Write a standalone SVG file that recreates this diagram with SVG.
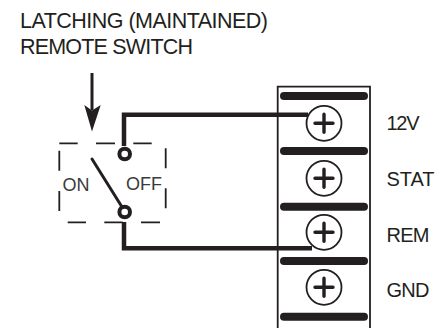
<svg xmlns="http://www.w3.org/2000/svg" width="435" height="328" viewBox="0 0 435 328">
<style>
text{font-family:"Liberation Sans",Arial,sans-serif;font-size:20px;fill:#231f20}
.title{font-size:21.5px}
.sw{font-size:18px;fill:#3a3a3a}
.dash{fill:none;stroke:#231f20;stroke-width:1.8}
.wire{fill:none;stroke:#231f20;stroke-width:4.5}
.bar{fill:#231f20}
.screw{fill:#fff;stroke:#231f20;stroke-width:1.8}
.plus{fill:none;stroke:#231f20;stroke-width:3.4;stroke-linecap:round}
.contact{fill:#fff;stroke:#231f20;stroke-width:4}
</style>
<defs>
<g id="t"><circle class="screw" r="17.5"/><path class="plus" d="M-9 0H9M0-9V9"/></g>
</defs>
<rect width="435" height="328" fill="#fff"/>
<g id="title">
<text class="title" x="20" y="28.3" textLength="248">LATCHING (MAINTAINED)</text>
<text class="title" x="20" y="54.3" textLength="173">REMOTE SWITCH</text>
</g>
<g id="arrow">
<path d="M92 73V110" fill="none" stroke="#231f20" stroke-width="3"/>
<path d="M84.3 105L92 131.5L100.7 105L92 110.5Z" fill="#231f20"/>
</g>
<g id="terminal-block">
<path d="M277.7 328V86.7H370V328" fill="none" stroke="#231f20" stroke-width="1.8"/>
<rect class="bar" x="280" y="92" width="88" height="8" rx="4"/>
<rect class="bar" x="280" y="147" width="88" height="8" rx="4"/>
<rect class="bar" x="280" y="202.7" width="88" height="8" rx="4"/>
<rect class="bar" x="280" y="257" width="88" height="8" rx="4"/>
<rect class="bar" x="280" y="312.7" width="88" height="8" rx="4"/>
</g>
<g id="connectors">
<path class="wire" d="M124 146V114.7H308"/>
<path class="wire" d="M124 222V248.3H312"/>
</g>
<g id="term-12v"><use href="#t" x="324" y="123.3"/><text x="386.5" y="130" textLength="33">12V</text></g>
<g id="term-stat"><use href="#t" x="324" y="178.3"/><text x="386.5" y="185.7" textLength="48">STAT</text></g>
<g id="term-rem"><use href="#t" x="324" y="232.3"/><text x="386.5" y="241.7" textLength="43">REM</text></g>
<g id="term-gnd"><use href="#t" x="324" y="287.3"/><text x="386.5" y="297" textLength="43">GND</text></g>
<g id="switch">
<path class="dash" d="M59.3 143.3H77.7M96 143.3H115M133.3 143.3H151.7M67.7 222.3H86M104.3 222.3H122.7M141 222.3H160M59.3 150.7V170.7M59.3 191V211M165.7 148.3V168.3M165.7 188.3V208.3"/>
<path d="M92 159L122 207" fill="none" stroke="#231f20" stroke-width="3" stroke-linecap="round"/>
<circle class="contact" cx="124.7" cy="154" r="5.3"/>
<circle class="contact" cx="124.7" cy="212" r="5.3"/>
<text class="sw" x="62.5" y="190.7">ON</text>
<text class="sw" x="126" y="189.7">OFF</text>
</g>
</svg>
